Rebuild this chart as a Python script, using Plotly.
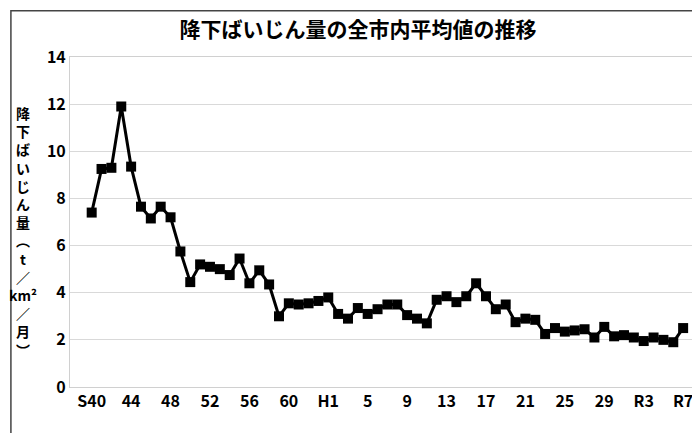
import plotly.graph_objects as go

years = list(range(1965, 2026))
values = [7.4, 9.25, 9.3, 11.9, 9.35, 7.65, 7.15, 7.65, 7.2, 5.75,
          4.45, 5.2, 5.1, 5.0, 4.75, 5.45, 4.4, 4.95, 4.35, 3.0,
          3.55, 3.5, 3.55, 3.65, 3.8, 3.1, 2.9, 3.35, 3.1, 3.3,
          3.5, 3.5, 3.05, 2.9, 2.7, 3.7, 3.85, 3.6, 3.85, 4.4,
          3.85, 3.3, 3.5, 2.75, 2.9, 2.85, 2.25, 2.5, 2.35, 2.4,
          2.45, 2.1, 2.55, 2.15, 2.2, 2.1, 1.95, 2.1, 2.0, 1.9, 2.5]
tick_years = list(range(1965, 2026, 4))
tick_labels = ["S40", "44", "48", "52", "56", "60", "H1", "5", "9", "13",
               "17", "21", "25", "29", "R3", "R7"]
title = "降下ばいじん量の全市内平均値の推移"
ytitle_chars = list("降下ばいじん量") + ["︵", "t", "／", "km²", "／", "月", "︶"]

font = "Noto Sans CJK JP"
fig = go.Figure(go.Scatter(
    x=years, y=values, mode="lines+markers",
    line=dict(color="black", width=3),
    marker=dict(symbol="square", size=10, color="black"),
))
fig.update_layout(
    width=700, height=433, paper_bgcolor="white", plot_bgcolor="white",
    margin=dict(l=62, r=16, t=49, b=54),
    showlegend=False,
    title=dict(text="<b>" + title + "</b>", x=0.5, xanchor="center", y=0.95,
               yanchor="middle", font=dict(family=font, size=21, color="black")),
    font=dict(family=font, color="black"),
    shapes=[dict(type="rect", xref="paper", yref="paper", x0=-0.095, x1=1.02,
                 y0=-0.155, y1=1.14, line=dict(color="#444", width=1.5))],
    annotations=[dict(text="<b>" + "<br>".join(ytitle_chars) + "</b>", xref="paper", yref="paper",
                      x=-0.075, y=0.47, xanchor="center", yanchor="middle", showarrow=False,
                      font=dict(family=font, size=14, color="black"))],
)
fig.update_xaxes(range=[1962.8, 2025.9], tickvals=tick_years, ticktext=["<b>%s</b>" % t for t in tick_labels],
                 showgrid=False, showline=True, linecolor="#d0d0d0", linewidth=1, mirror=True,
                 tickfont=dict(size=16, family=font), ticks="")
fig.update_yaxes(range=[0, 14], dtick=2, showgrid=True, gridcolor="#d9d9d9",
                 showline=True, linecolor="#d0d0d0", mirror=True, zeroline=False,
                 tickfont=dict(size=16, family=font), tickprefix="<b>", ticksuffix="</b>")
fig.write_html("out.html")
